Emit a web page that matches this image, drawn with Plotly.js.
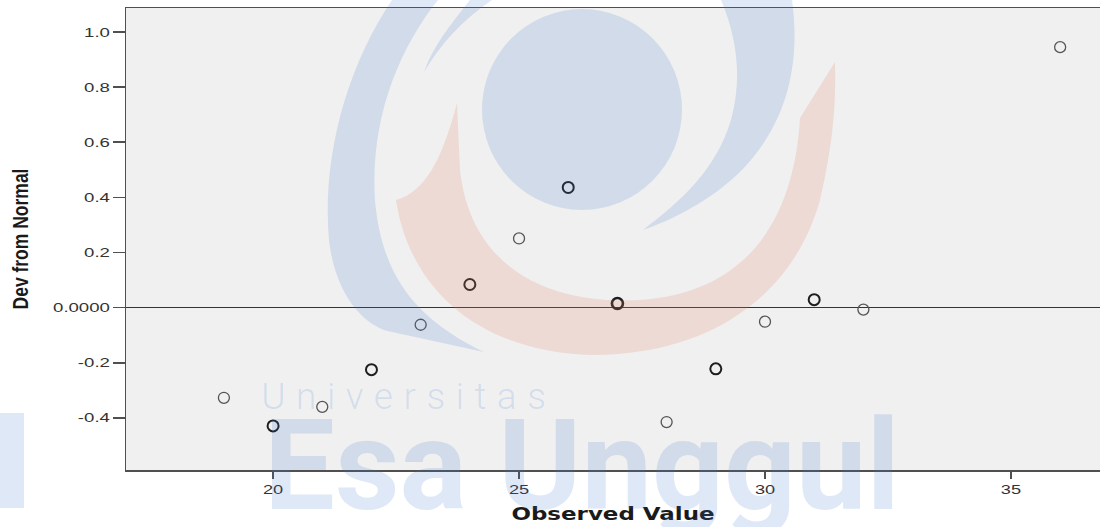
<!DOCTYPE html>
<html>
<head>
<meta charset="utf-8">
<script src="https://cdn.plot.ly/plotly-3.0.1.min.js"></script>
<style>
  html, body { margin: 0; padding: 0; background: #ffffff; }
  #chart { width: 1100px; height: 527px; }
</style>
</head>
<body>
<div id="chart"></div>
<script>
// ---- data (detrended normal Q-Q plot) ----
const observedValue = [19, 20, 21, 22, 23, 24, 25, 26, 27, 28, 29, 30, 31, 32, 36];
const devFromNormal = [-0.327, -0.429, -0.36, -0.225, -0.062, 0.084, 0.251, 0.436, 0.015, -0.415, -0.222, -0.051, 0.029, -0.007, 0.945];
const caseCount     = [1, 2, 1, 2, 1, 2, 1, 2, 3, 1, 2, 1, 2, 1, 1];

const yTickVals   = [-0.4, -0.2, 0, 0.2, 0.4, 0.6, 0.8, 1.0];
const yTickLabels = ['-0.4', '-0.2', '0.0000', '0.2', '0.4', '0.6', '0.8', '1.0'];
const xTickVals   = [20, 25, 30, 35];
const xTickLabels = ['20', '25', '30', '35'];

const xTitle = 'Observed Value';
const yTitle = 'Dev from Normal';
const watermarkTop = 'Universitas';
const watermarkMain = 'Esa Unggul';

// ---- layout geometry ----
const M = { l: 126, r: 0, t: 8, b: 57 };
const W = 1100 - M.l - M.r, H = 527 - M.t - M.b;
const fx = x => (x - M.l) / W;
const fy = y => (M.t + H - y) / H;
function path(cmds) {
  return cmds.map(c => {
    if (c[0] === 'Z') return 'Z';
    const out = [c[0]];
    for (let i = 1; i < c.length; i += 2) out.push(fx(c[i]).toFixed(4) + ',' + fy(c[i + 1]).toFixed(4));
    return out.join(' ');
  }).join(' ');
}

const wmBlue = 'rgba(60,120,210,0.17)';
const wmPink = 'rgba(230,130,100,0.20)';

const shapes = [
  { type: 'path', xref: 'paper', yref: 'paper', layer: 'above', line: { width: 0 }, fillcolor: wmPink,
    path: path([['M',457,103],['C',442,160,425,192,396,200],['C',410,292,482,352,592,355],
                ['C',705,355,792,300,820,200],['C',834,140,836,100,835,62],['L',800,118],
                ['C',795,205,758,292,640,300],['C',540,305,470,262,460,170],['Z']]) },
  { type: 'path', xref: 'paper', yref: 'paper', layer: 'above', line: { width: 0 }, fillcolor: wmBlue,
    path: path([['M',392,0],['C',345,70,322,160,329,240],['C',336,300,368,328,392,332],
                ['L',484,352],['C',422,322,382,282,375,200],['C',370,120,398,50,438,0],['Z']]) },
  { type: 'path', xref: 'paper', yref: 'paper', layer: 'above', line: { width: 0 }, fillcolor: wmBlue,
    path: path([['M',424,72],['C',440,45,462,20,492,0],['L',470,0],['C',450,25,432,48,424,72],['Z']]) },
  { type: 'path', xref: 'paper', yref: 'paper', layer: 'above', line: { width: 0 }, fillcolor: wmBlue,
    path: path([['M',721,0],['L',792,0],['C',800,60,790,120,742,170],['C',712,200,672,220,643,230],
                ['C',682,200,716,170,731,120],['C',742,80,738,40,721,0],['Z']]) },
  { type: 'circle', xref: 'paper', yref: 'paper', layer: 'above', line: { width: 0 }, fillcolor: wmBlue,
    x0: fx(482), x1: fx(682), y0: fy(210), y1: fy(9) },
  { type: 'rect', xref: 'paper', yref: 'paper', layer: 'above', line: { width: 0 }, fillcolor: wmBlue,
    x0: fx(0), x1: fx(24), y0: fy(508), y1: fy(413) }
];

const annotations = [
  { text: watermarkTop, xref: 'paper', yref: 'paper', x: fx(409), y: fy(396), xanchor: 'center', yanchor: 'middle',
    showarrow: false, font: { family: 'Roboto, Lato, sans-serif', size: 37, weight: 300, color: wmBlue } },
  { text: watermarkMain, xref: 'paper', yref: 'paper', x: fx(582), y: fy(466), xanchor: 'center', yanchor: 'middle',
    showarrow: false, font: { family: 'Roboto, sans-serif', size: 126, weight: 700, color: wmBlue } }
];

const trace = {
  type: 'scatter', mode: 'markers',
  x: observedValue, y: devFromNormal,
  marker: {
    symbol: 'circle-open', size: 11,
    color: caseCount.map(c => c > 1 ? '#1e1e1e' : '#555555'),
    line: { width: caseCount.map(c => c > 2 ? 2.6 : (c > 1 ? 2.0 : 1.3)) }
  },
  hoverinfo: 'x+y', showlegend: false
};

const tickFont = { family: 'Liberation Sans, Arial, sans-serif', size: 13, color: '#333333' };

const layout = {
  width: 1100, height: 527,
  margin: M,
  paper_bgcolor: '#ffffff', plot_bgcolor: '#f0f0f0',
  showlegend: false,
  xaxis: {
    range: [17.01, 36.81], tickvals: xTickVals, ticktext: xTickLabels,
    showgrid: false, zeroline: false, showline: true, mirror: true, linecolor: '#505050', linewidth: 1.5,
    ticks: 'outside', ticklen: 7, tickwidth: 1.5, tickcolor: '#505050',
    tickfont: tickFont,
    title: { text: xTitle, standoff: 12, font: { family: 'DejaVu Sans, Verdana, sans-serif', size: 17, weight: 700, color: '#1a1a1a' } }
  },
  yaxis: {
    range: [-0.589, 1.087], tickvals: yTickVals, ticktext: yTickLabels,
    showgrid: false, zeroline: true, zerolinecolor: '#333333', zerolinewidth: 1,
    showline: true, mirror: true, linecolor: '#505050', linewidth: 1.5,
    ticks: 'outside', ticklen: 12, tickwidth: 1.5, tickcolor: '#505050',
    tickfont: tickFont,
    title: { text: yTitle, standoff: 39, font: { family: 'Liberation Sans, Arial, sans-serif', size: 17.5, weight: 700, color: '#1a1a1a' } }
  },
  shapes: shapes,
  annotations: annotations
};

// The reference image is horizontally stretched; widen its texts the same way.
function stretchX(el, k, anchor) {
  const r = el.getBoundingClientRect();
  const sx = anchor === 'right' ? r.right : (anchor === 'left' ? r.left : (r.left + r.right) / 2);
  const m = el.parentNode.getScreenCTM();
  const ax = (sx - m.e) / m.a;
  const old = el.getAttribute('transform') || '';
  el.setAttribute('transform', `translate(${ax},0) scale(${k},1) translate(${-ax},0) ${old}`);
}

Plotly.newPlot('chart', [trace], layout, { displayModeBar: false, staticPlot: true }).then(gd => {
  gd.querySelectorAll('text.annotation-text').forEach(t => {
    if (t.textContent === watermarkTop) t.style.letterSpacing = '10.5px';
  });
  gd.querySelectorAll('g.ytick text').forEach(t => stretchX(t, 1.43, 'right'));
  gd.querySelectorAll('g.xtick text').forEach(t => stretchX(t, 1.4, 'center'));
  gd.querySelectorAll('text.xtitle').forEach(t => stretchX(t, 1.35, 'center'));
  gd.querySelectorAll('text.ytitle').forEach(t => stretchX(t, 1.3, 'center'));
});
</script>
</body>
</html>
